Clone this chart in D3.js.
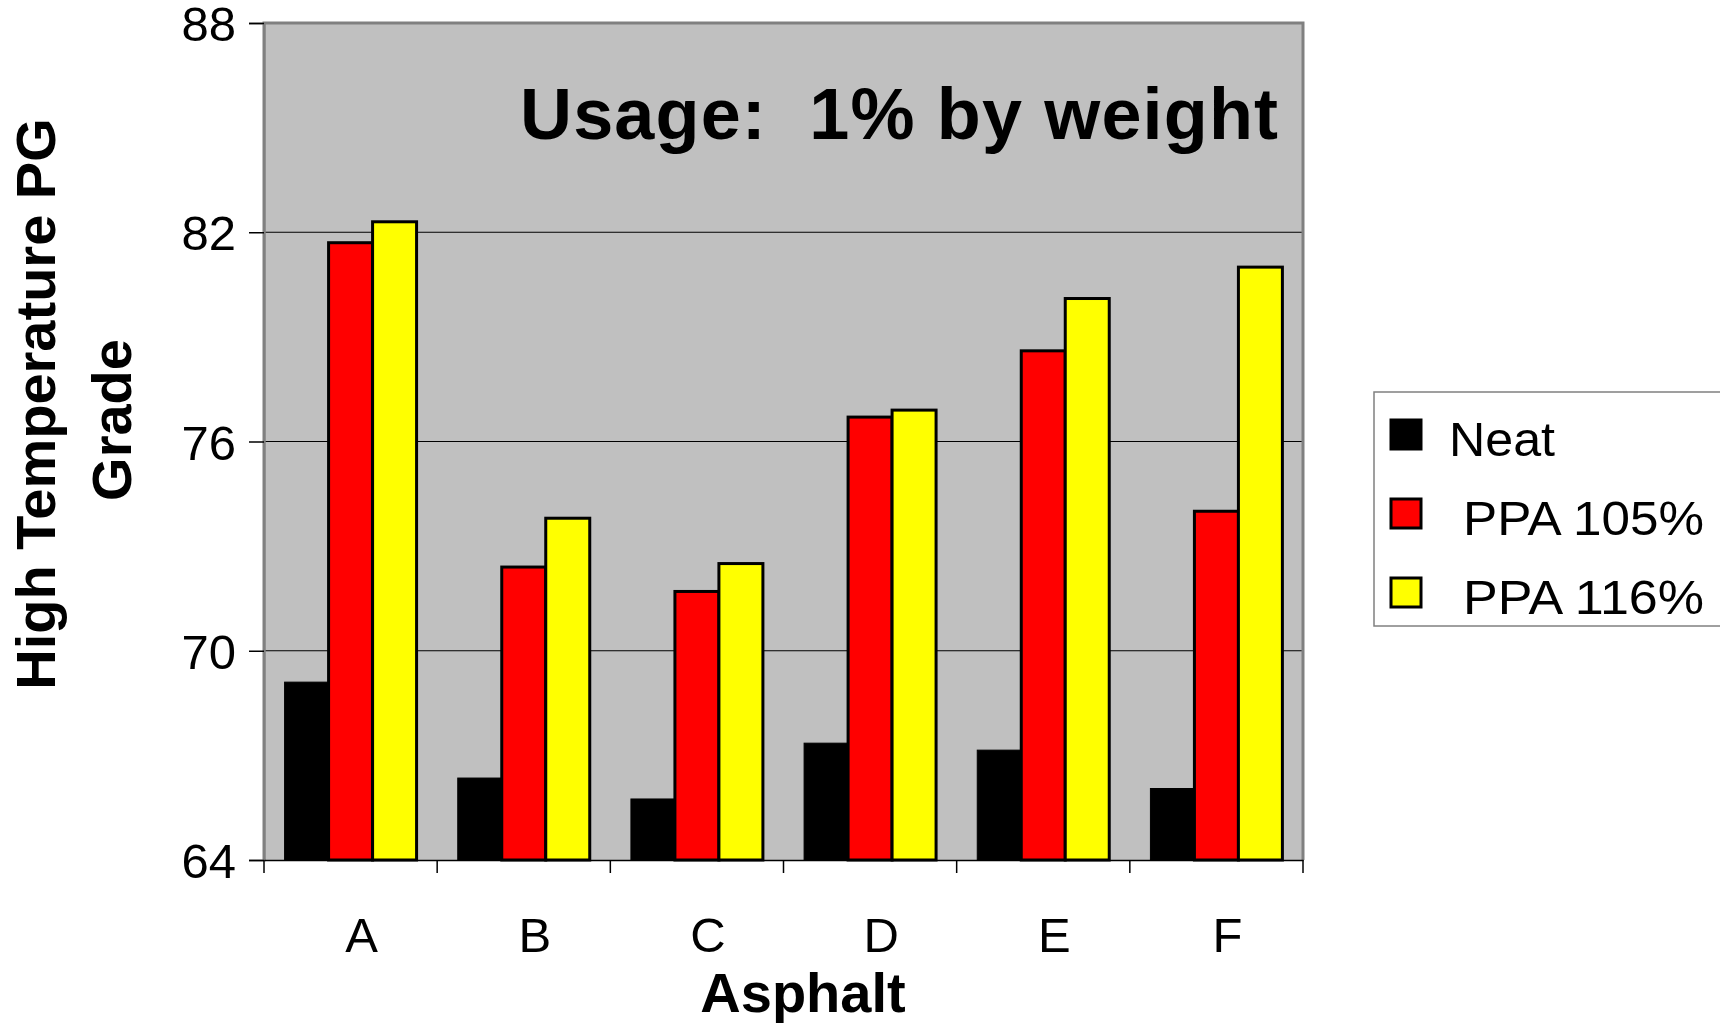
<!DOCTYPE html>
<html>
<head>
<meta charset="utf-8">
<script src="https://cdn.jsdelivr.net/npm/d3@7"></script>
<style>
  html, body { margin: 0; padding: 0; background: #ffffff; }
  svg { display: block; font-family: "Liberation Sans", Arial, sans-serif; }
  text { white-space: pre; }
</style>
</head>
<body>
<svg id="chart" width="1720" height="1023"></svg>
<script>
// Asphalt samples and PG grade series
const categories = ["A", "B", "C", "D", "E", "F"];
const seriesNames = ["Neat", "PPA 105%", "PPA 116%"];
const neat    = [69.1, 66.35, 65.75, 67.35, 67.15, 66.05];
const ppa105  = [81.7, 72.4, 71.7, 76.7, 78.6, 74.0];
const ppa116  = [82.3, 73.8, 72.5, 76.9, 80.1, 81.0];
const yTicks  = [64, 70, 76, 82, 88];
const seriesColors = ["#000000", "#ff0000", "#ffff00"];

const seriesValues = [neat, ppa105, ppa116];
const rows = categories.map((c, i) => ({
  cat: c,
  vals: seriesNames.map((s, j) => ({ key: s, value: seriesValues[j][i], color: seriesColors[j] }))
}));

const svg = d3.select("#chart");
const plot = { left: 264, right: 1303, top: 23, bottom: 860 };

const x = d3.scaleBand().domain(categories).range([plot.left, plot.right]).padding(0);
const xs = d3.scaleBand().domain(seriesNames).range([0, x.bandwidth()])
  .paddingInner(0).paddingOuter(0.468);
const y = d3.scaleLinear().domain([64, 88]).range([plot.bottom, plot.top]);

// plot background
svg.append("rect")
  .attr("x", plot.left).attr("y", plot.top)
  .attr("width", plot.right - plot.left).attr("height", plot.bottom - plot.top)
  .attr("fill", "#c0c0c0");

// horizontal gridlines
svg.append("g").selectAll("line")
  .data(yTicks.filter(t => t > 64 && t < 88))
  .join("line")
  .attr("x1", plot.left).attr("x2", plot.right)
  .attr("y1", d => y(d)).attr("y2", d => y(d))
  .attr("stroke", "#000").attr("stroke-width", 1.2);

// bars
const groups = svg.append("g").selectAll("g")
  .data(rows).join("g")
  .attr("transform", d => `translate(${x(d.cat)},0)`);
groups.selectAll("rect")
  .data(d => d.vals).join("rect")
  .attr("x", d => xs(d.key))
  .attr("width", xs.bandwidth())
  .attr("y", d => y(d.value))
  .attr("height", d => y(64) - y(d.value))
  .attr("fill", d => d.color)
  .attr("stroke", "#000")
  .attr("stroke-width", d => d.key === "Neat" ? 1 : 3);

// plot frame
svg.append("path")
  .attr("d", `M${plot.left},${plot.bottom} V${plot.top} H${plot.right} V${plot.bottom}`)
  .attr("fill", "none").attr("stroke", "#808080").attr("stroke-width", 3);

// y axis
const yAxis = svg.append("g")
  .attr("transform", `translate(${plot.left},0)`)
  .call(d3.axisLeft(y).tickValues(yTicks).tickSize(15).tickPadding(13).tickFormat(d3.format("d")));
yAxis.select(".domain").attr("stroke", "#808080").attr("stroke-width", 2);
yAxis.selectAll(".tick line").attr("stroke", "#000").attr("stroke-width", 1.5);
yAxis.selectAll(".tick text")
  .attr("font-size", 49).attr("fill", "#000")
  .attr("font-family", "Liberation Sans, Arial, sans-serif")
  .attr("dy", "0.36em");

// x axis
const xAxis = svg.append("g")
  .attr("transform", `translate(0,${plot.bottom})`)
  .call(d3.axisBottom(x).tickSize(0).tickPadding(0));
xAxis.select(".domain").attr("stroke", "#000").attr("stroke-width", 1.5);
xAxis.selectAll(".tick text")
  .attr("font-size", 49).attr("fill", "#000")
  .attr("font-family", "Liberation Sans, Arial, sans-serif")
  .attr("dx", 11).attr("y", 92).attr("dy", 0);
// category boundary ticks
svg.append("g").selectAll("line")
  .data(categories.concat(["end"]))
  .join("line")
  .attr("x1", (d, i) => i < categories.length ? x(d) : plot.right)
  .attr("x2", (d, i) => i < categories.length ? x(d) : plot.right)
  .attr("y1", plot.bottom).attr("y2", plot.bottom + 13)
  .attr("stroke", "#000").attr("stroke-width", 1.5);

// titles
svg.append("text")
  .attr("x", 1278).attr("y", 139)
  .attr("text-anchor", "end")
  .attr("font-size", 72).attr("font-weight", "bold")
  .attr("textLength", 758).attr("lengthAdjust", "spacing")
  .text("Usage:  1% by weight");

svg.append("text")
  .attr("x", 803).attr("y", 1012)
  .attr("text-anchor", "middle")
  .attr("font-size", 56).attr("font-weight", "bold")
  .text("Asphalt");

svg.append("text")
  .attr("transform", "translate(55,404) rotate(-90)")
  .attr("text-anchor", "middle")
  .attr("font-size", 56).attr("font-weight", "bold")
  .text("High Temperature PG");
svg.append("text")
  .attr("transform", "translate(131,420) rotate(-90)")
  .attr("text-anchor", "middle")
  .attr("font-size", 56).attr("font-weight", "bold")
  .text("Grade");

// legend
const legend = svg.append("g");
legend.append("rect")
  .attr("x", 1374).attr("y", 392)
  .attr("width", 400).attr("height", 234)
  .attr("fill", "#fff").attr("stroke", "#808080").attr("stroke-width", 1.5);
const legendLabels = ["Neat", "PPA 105%", "PPA 116%"];
const legendX = [1449, 1463, 1463];
const legendW = [106, 241, 241];
const ly = d3.scalePoint().domain(seriesNames).range([434.5, 592.5]);
const items = legend.selectAll("g.item")
  .data(seriesNames).join("g").attr("class", "item")
  .attr("transform", d => `translate(0,${ly(d)})`);
items.append("rect")
  .attr("x", 1391).attr("y", -14.5).attr("width", 30).attr("height", 29)
  .attr("fill", (d, i) => seriesColors[i])
  .attr("stroke", "#000").attr("stroke-width", 3);
items.append("text")
  .attr("x", (d, i) => legendX[i]).attr("y", 21)
  .attr("font-size", 48)
  .attr("textLength", (d, i) => legendW[i]).attr("lengthAdjust", "spacingAndGlyphs")
  .text((d, i) => legendLabels[i]);
</script>
</body>
</html>
